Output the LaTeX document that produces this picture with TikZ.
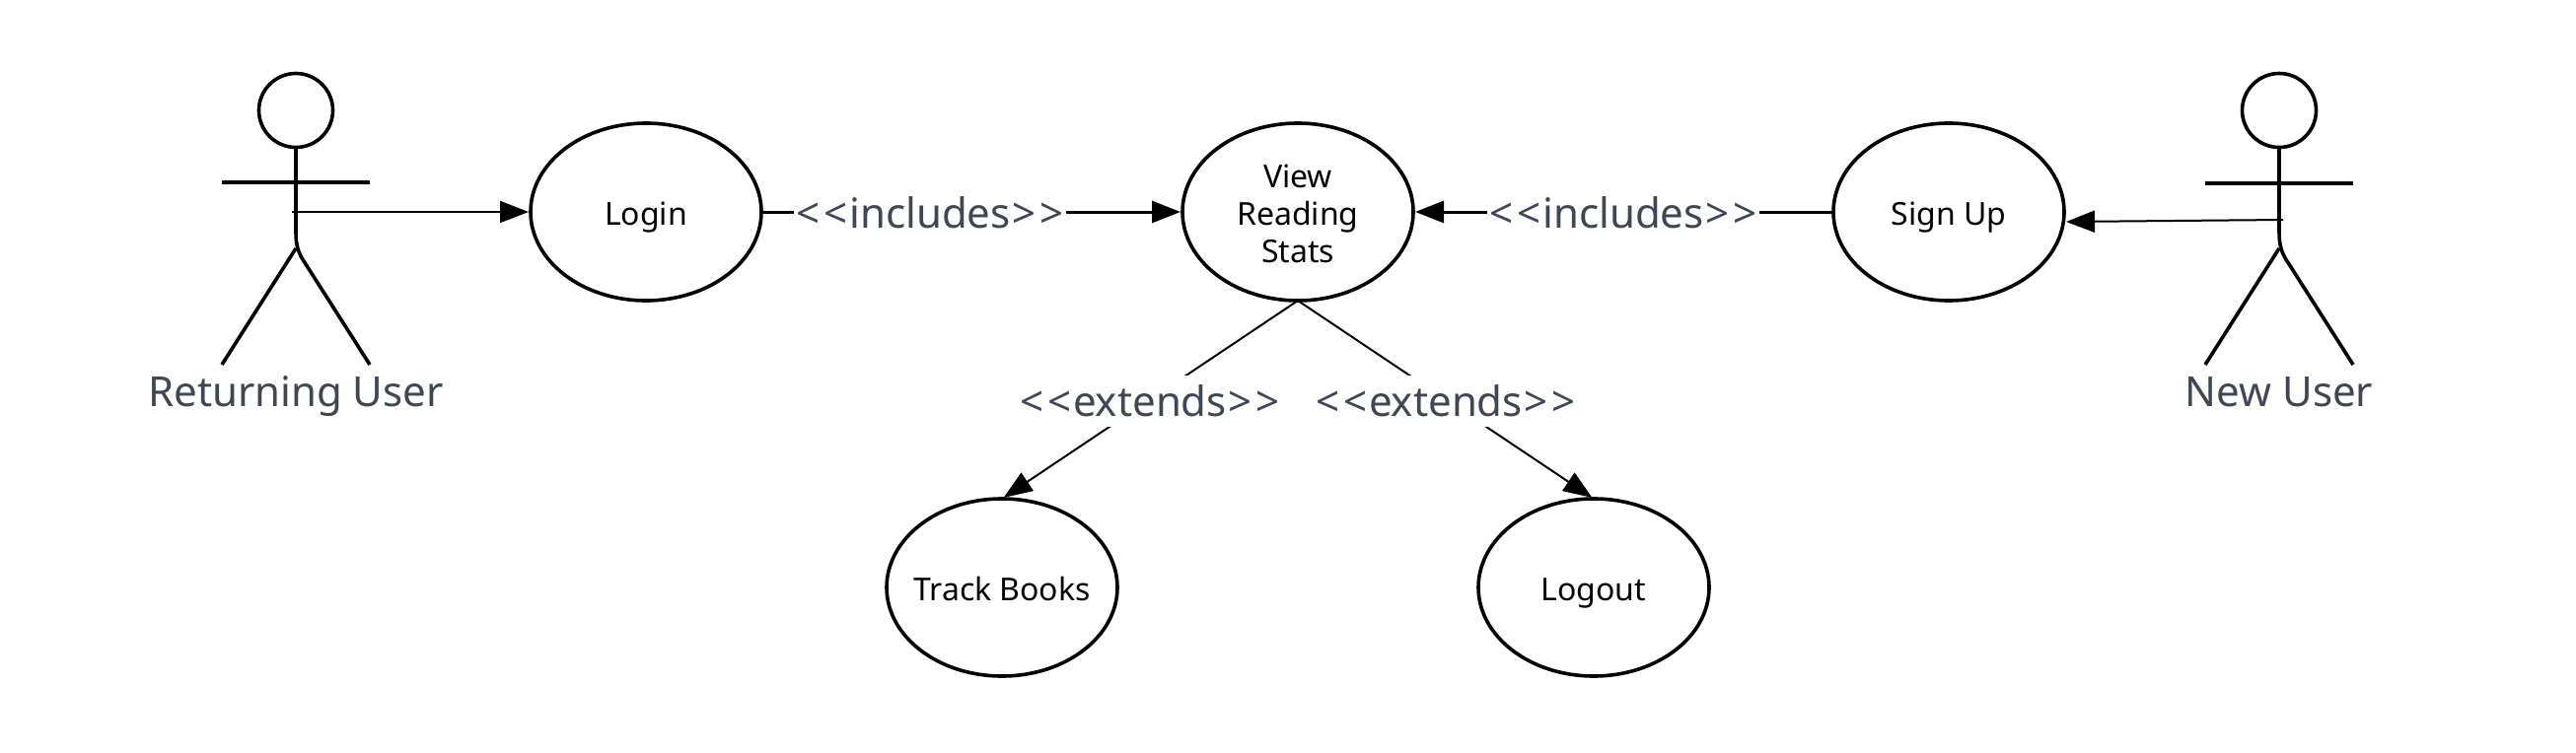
\documentclass[tikz,border=0pt]{standalone}
\usepackage{fontspec}
\setmainfont{Noto Sans}
\usetikzlibrary{shapes.geometric,arrows.meta}
\definecolor{labelgrey}{HTML}{3F4754}
\tikzset{
  usecase/.style={ellipse,draw=black,line width=3.6pt,minimum width=234pt,minimum height=180pt,inner sep=0pt,outer sep=0pt,align=center,font=\fontsize{32}{38}\selectfont,text=black,fill=white},
  oneline/.style={text height=32pt,text depth=6pt},
  head/.style={circle,draw=black,line width=3.6pt,minimum size=75pt,inner sep=0pt,outer sep=0pt},
  limb/.style={draw=black,line width=3.6pt},
  thick link/.style={draw=black,line width=3pt,shorten >=2pt,-{Triangle[length=29pt,width=22pt]}},
  thin link/.style={draw=black,line width=2pt,shorten >=2pt,-{Triangle[length=29pt,width=22pt]}},
  relabel/.style={fill=white,inner xsep=2pt,inner ysep=3pt,text=labelgrey,font=\fontsize{42}{48}\selectfont,minimum height=52pt},
  actorname/.style={text=labelgrey,font=\fontsize{42}{50}\selectfont,inner sep=0pt,text height=30pt,text depth=0pt},
}
\begin{document}
\begin{tikzpicture}[x=1pt,y=-1pt]
\useasboundingbox (0,0) rectangle (2612,763);
% use cases
\node[usecase,oneline] (login) at (655,215) {Login};
\node[usecase] (view) at (1316,215) {\rule{0pt}{27pt}View\\Reading\\Stats};
\node[usecase,oneline] (signup) at (1976,215) {Sign Up};
\node[usecase,oneline] (track) at (1016,596) {\makebox[0pt][c]{Track Books}};
\node[usecase,oneline] (logout) at (1616,596) {Logout};
% actor: returning user
\node[head] (headL) at (300,112) {};
\coordinate (armLa) at (225,185);
\coordinate (armLb) at (375,185);
\coordinate (footLa) at (225,370);
\coordinate (footLb) at (375,370);
\coordinate (hipL) at (300,252);
\coordinate (handL) at (296,215);
\draw[limb] (headL.south) -- (300,236) .. controls (300,250) and (303,258) .. (310,268) -- (footLb);
\draw[limb] (armLa) -- (armLb);
\draw[limb] (hipL) -- (footLa);
\node[actorname] (nameL) at (300,397) {Returning User};
% actor: new user
\node[head] (headR) at (2311,112) {};
\coordinate (armRa) at (2236,186);
\coordinate (armRb) at (2386,186);
\coordinate (footRa) at (2236,370);
\coordinate (footRb) at (2386,370);
\coordinate (hipR) at (2311,252);
\coordinate (handR) at (2315,223);
\draw[limb] (headR.south) -- (2311,236) .. controls (2311,250) and (2314,258) .. (2321,268) -- (footRb);
\draw[limb] (armRa) -- (armRb);
\draw[limb] (hipR) -- (footRa);
\node[actorname] (nameR) at (2311,397) {New User};
% connectors
\draw[thin link] (handL) -- (login.west);
\draw[thin link] (handR) -- (signup.east |- 0,225);
\draw[thick link] (login.east) -- (view.west);
\draw[thick link] (signup.west) -- (view.east);
\draw[thin link] (view.south) -- (track.north);
\draw[thin link] (view.south) -- (logout.north);
% labels over the connectors
\node[relabel] (incL) at (943,216) {<\kern4pt<\kern2pt includes\kern2pt>\kern4pt>};
\node[relabel] (incR) at (1646,216) {<\kern4pt<\kern2pt includes\kern2pt>\kern4pt>};
\node[relabel] (extL) at (1166,407) {<\kern4pt<\kern2pt extends\kern2pt>\kern4pt>};
\node[relabel] (extR) at (1466,407) {<\kern4pt<\kern2pt extends\kern2pt>\kern4pt>};
\end{tikzpicture}
\end{document}
